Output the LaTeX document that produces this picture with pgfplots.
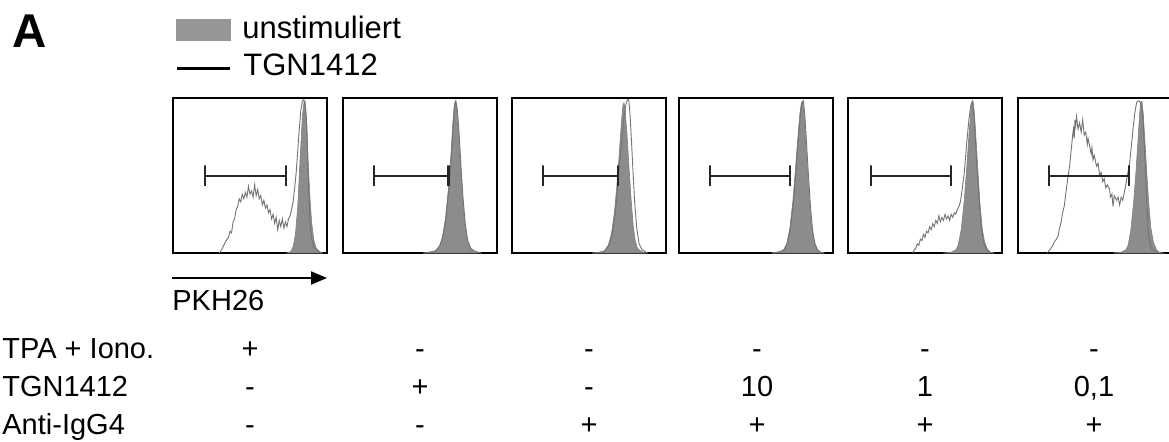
\documentclass[border=0pt]{standalone}
\usepackage{fontspec}
\setmainfont{Liberation Sans}
\usepackage{pgfplots}
\pgfplotsset{compat=1.18}
\usetikzlibrary{arrows.meta}
\definecolor{histgray}{RGB}{140,140,140}
\definecolor{leggray}{RGB}{150,150,150}
\pgfplotsset{
  panel/.style={scale only axis, width=77pt, height=77.5pt,
    xmin=0, xmax=1, ymin=0, ymax=1, xtick=\empty, ytick=\empty,
    axis line style={line width=1.3pt}, anchor=north west},
  gate/.style={line width=1.1pt, color=black!85},
  unst/.style={fill=histgray, draw=black!50, line width=0.3pt},
  tgn/.style={color=black!55, line width=0.45pt}
}
\begin{document}
\begin{tikzpicture}
\useasboundingbox (0,0) rectangle (584.5pt,-220.5pt);
% panel letter and legend
\node[anchor=base west, inner sep=0pt, font=\fontsize{23.7}{26}\selectfont\bfseries] at (6pt,-23.5pt) {A};
\fill[leggray] (88pt,-9.5pt) rectangle (115.5pt,-20.5pt);
\node[anchor=base west, inner sep=0pt, font=\fontsize{15.5}{18}\selectfont] at (121pt,-19pt) {unstimuliert};
\draw[line width=1.5pt] (88.5pt,-34pt) -- (115pt,-34pt);
\node[anchor=base west, inner sep=0pt, font=\fontsize{15.5}{18}\selectfont] at (121.5pt,-37.5pt) {TGN1412};

% Panel 1: TPA + Iono.
\begin{axis}[panel, at={(86.5pt,-49pt)}]
\addplot[unst] coordinates {(0.74,0)(0.765,0.01)(0.78,0.04)(0.795,0.12)(0.81,0.3)(0.825,0.6)(0.84,0.88)(0.85,0.97)(0.858,0.98)(0.866,0.88)(0.876,0.62)(0.888,0.38)(0.90,0.2)(0.915,0.08)(0.93,0.03)(0.95,0.01)(0.97,0)} \closedcycle;
\addplot[tgn] coordinates {(0.30,0)(0.315,0.02)(0.33,0.05)(0.345,0.08)(0.36,0.1)(0.37,0.14)(0.38,0.13)(0.39,0.2)(0.40,0.22)(0.41,0.28)(0.42,0.3)(0.43,0.35)(0.44,0.33)(0.45,0.38)(0.46,0.35)(0.47,0.39)(0.48,0.36)(0.49,0.43)(0.50,0.38)(0.51,0.4)(0.52,0.36)(0.53,0.44)(0.54,0.37)(0.55,0.41)(0.56,0.35)(0.57,0.37)(0.58,0.31)(0.59,0.34)(0.60,0.29)(0.61,0.31)(0.62,0.26)(0.63,0.28)(0.64,0.22)(0.65,0.25)(0.66,0.19)(0.67,0.23)(0.68,0.15)(0.69,0.21)(0.70,0.17)(0.71,0.22)(0.72,0.16)(0.73,0.2)(0.74,0.17)(0.75,0.22)(0.76,0.24)(0.77,0.28)(0.78,0.33)(0.79,0.42)(0.80,0.52)(0.81,0.66)(0.82,0.8)(0.83,0.92)(0.84,0.98)(0.85,0.99)(0.86,0.93)(0.87,0.8)(0.875,0.6)(0.88,0.45)(0.885,0.3)(0.89,0.2)(0.90,0.1)(0.91,0.05)(0.93,0.02)(0.96,0)};
\addplot[gate] coordinates {(0.21,0.43)(0.21,0.565)(0.21,0.495)(0.735,0.495)(0.735,0.565)(0.735,0.43)};
\end{axis}

% Panel 2: TGN1412 alone
\begin{axis}[panel, at={(171.5pt,-49pt)}]
\addplot[unst] coordinates {(0.52,0)(0.56,0.005)(0.60,0.015)(0.625,0.04)(0.645,0.1)(0.665,0.22)(0.685,0.42)(0.70,0.62)(0.712,0.82)(0.722,0.95)(0.73,0.98)(0.738,0.94)(0.75,0.78)(0.762,0.58)(0.775,0.38)(0.79,0.2)(0.805,0.09)(0.82,0.04)(0.845,0.01)(0.88,0)} \closedcycle;
\addplot[tgn] coordinates {(0.53,0)(0.6,0.01)(0.63,0.05)(0.65,0.11)(0.67,0.23)(0.69,0.44)(0.705,0.64)(0.717,0.84)(0.726,0.96)(0.733,0.98)(0.742,0.93)(0.754,0.77)(0.766,0.56)(0.779,0.36)(0.794,0.19)(0.81,0.08)(0.83,0.03)(0.86,0.01)(0.9,0)};
\addplot[gate] coordinates {(0.20,0.43)(0.20,0.565)(0.20,0.495)(0.685,0.495)(0.685,0.565)(0.685,0.43)};
\end{axis}

% Panel 3: Anti-IgG4 alone
\begin{axis}[panel, at={(256pt,-49pt)}]
\addplot[unst] coordinates {(0.52,0)(0.57,0.005)(0.60,0.015)(0.625,0.05)(0.645,0.12)(0.665,0.26)(0.683,0.46)(0.698,0.66)(0.71,0.84)(0.72,0.95)(0.727,0.97)(0.735,0.92)(0.747,0.76)(0.76,0.55)(0.773,0.35)(0.787,0.18)(0.80,0.08)(0.815,0.03)(0.84,0.01)(0.87,0)} \closedcycle;
\addplot[tgn] coordinates {(0.54,0)(0.6,0.01)(0.63,0.05)(0.655,0.14)(0.675,0.3)(0.695,0.52)(0.712,0.72)(0.728,0.88)(0.74,0.96)(0.75,0.99)(0.758,0.99)(0.766,0.9)(0.776,0.72)(0.786,0.52)(0.797,0.32)(0.81,0.16)(0.825,0.06)(0.845,0.02)(0.88,0)};
\addplot[gate] coordinates {(0.20,0.43)(0.20,0.565)(0.20,0.495)(0.69,0.495)(0.69,0.565)(0.69,0.43)};
\end{axis}

% Panel 4: TGN1412 10 + Anti-IgG4
\begin{axis}[panel, at={(339.5pt,-49pt)}]
\addplot[unst] coordinates {(0.60,0)(0.65,0.005)(0.68,0.02)(0.70,0.06)(0.72,0.16)(0.74,0.34)(0.757,0.55)(0.772,0.75)(0.785,0.9)(0.795,0.97)(0.803,0.98)(0.812,0.9)(0.822,0.74)(0.835,0.52)(0.848,0.32)(0.862,0.16)(0.878,0.07)(0.895,0.025)(0.915,0.005)(0.94,0)} \closedcycle;
\addplot[tgn] coordinates {(0.61,0)(0.66,0.01)(0.685,0.025)(0.705,0.07)(0.725,0.17)(0.745,0.35)(0.762,0.56)(0.777,0.76)(0.79,0.91)(0.8,0.97)(0.808,0.98)(0.817,0.89)(0.827,0.73)(0.84,0.51)(0.853,0.31)(0.867,0.15)(0.883,0.06)(0.9,0.02)(0.92,0.005)(0.945,0)};
\addplot[gate] coordinates {(0.20,0.43)(0.20,0.565)(0.20,0.495)(0.72,0.495)(0.72,0.565)(0.72,0.43)};
\end{axis}

% Panel 5: TGN1412 1 + Anti-IgG4
\begin{axis}[panel, at={(424pt,-49pt)}]
\addplot[unst] coordinates {(0.62,0)(0.67,0.005)(0.70,0.02)(0.715,0.05)(0.735,0.15)(0.755,0.34)(0.77,0.54)(0.784,0.74)(0.796,0.9)(0.805,0.97)(0.812,0.98)(0.821,0.9)(0.831,0.74)(0.844,0.52)(0.857,0.32)(0.871,0.16)(0.887,0.07)(0.905,0.025)(0.925,0.005)(0.95,0)} \closedcycle;
\addplot[tgn] coordinates {(0.42,0)(0.43,0.02)(0.44,0.03)(0.45,0.06)(0.46,0.05)(0.47,0.09)(0.48,0.08)(0.49,0.12)(0.50,0.1)(0.51,0.14)(0.52,0.13)(0.53,0.17)(0.54,0.15)(0.55,0.19)(0.56,0.17)(0.57,0.21)(0.58,0.19)(0.59,0.24)(0.60,0.2)(0.61,0.23)(0.62,0.21)(0.63,0.25)(0.64,0.22)(0.65,0.24)(0.66,0.21)(0.67,0.25)(0.68,0.23)(0.69,0.26)(0.70,0.25)(0.71,0.28)(0.72,0.3)(0.73,0.33)(0.74,0.4)(0.755,0.52)(0.77,0.7)(0.785,0.86)(0.797,0.95)(0.807,0.98)(0.815,0.93)(0.826,0.76)(0.838,0.54)(0.851,0.34)(0.865,0.17)(0.88,0.07)(0.9,0.02)(0.93,0)};
\addplot[gate] coordinates {(0.147,0.43)(0.147,0.565)(0.147,0.495)(0.67,0.495)(0.67,0.565)(0.67,0.43)};
\end{axis}

% Panel 6: TGN1412 0,1 + Anti-IgG4
\begin{axis}[panel, at={(509pt,-49pt)}]
\addplot[unst] coordinates {(0.62,0)(0.67,0.005)(0.70,0.02)(0.715,0.05)(0.733,0.15)(0.752,0.34)(0.767,0.54)(0.78,0.74)(0.79,0.9)(0.797,0.97)(0.805,0.98)(0.813,0.9)(0.823,0.74)(0.836,0.52)(0.849,0.32)(0.863,0.16)(0.879,0.07)(0.897,0.025)(0.917,0.005)(0.94,0)} \closedcycle;
\addplot[tgn] coordinates {(0.19,0)(0.205,0.02)(0.22,0.04)(0.235,0.07)(0.25,0.09)(0.26,0.11)(0.27,0.16)(0.28,0.2)(0.29,0.26)(0.30,0.3)(0.31,0.38)(0.32,0.46)(0.335,0.56)(0.345,0.66)(0.355,0.76)(0.36,0.8)(0.365,0.74)(0.37,0.86)(0.375,0.82)(0.38,0.88)(0.39,0.8)(0.40,0.84)(0.41,0.78)(0.42,0.86)(0.43,0.76)(0.44,0.78)(0.45,0.7)(0.455,0.74)(0.465,0.69)(0.475,0.64)(0.48,0.68)(0.487,0.6)(0.495,0.63)(0.51,0.56)(0.52,0.58)(0.53,0.5)(0.54,0.52)(0.55,0.46)(0.56,0.48)(0.57,0.42)(0.58,0.44)(0.595,0.41)(0.60,0.36)(0.61,0.38)(0.617,0.3)(0.625,0.37)(0.64,0.34)(0.65,0.36)(0.66,0.31)(0.67,0.36)(0.68,0.34)(0.69,0.39)(0.70,0.44)(0.71,0.5)(0.725,0.58)(0.735,0.68)(0.747,0.8)(0.758,0.9)(0.77,0.97)(0.78,0.98)(0.79,0.98)(0.80,0.95)(0.81,0.9)(0.82,0.7)(0.83,0.47)(0.838,0.3)(0.845,0.14)(0.855,0.07)(0.866,0.03)(0.9,0)};
\addplot[gate] coordinates {(0.20,0.43)(0.20,0.565)(0.20,0.495)(0.72,0.495)(0.72,0.565)(0.72,0.43)};
\end{axis}

% axis arrow
\draw[line width=1pt, -{Triangle[length=8pt, width=6.5pt]}] (86pt,-139pt) -- (163.5pt,-139pt);
\node[anchor=base west, inner sep=0pt, font=\fontsize{14.5}{17}\selectfont] at (86pt,-155pt) {PKH26};

% condition table
\begin{scope}[every node/.style={inner sep=0pt, font=\fontsize{14.5}{17}\selectfont}]
\node[anchor=base west] at (1pt,-179pt) {TPA + Iono.};
\node[anchor=base west] at (1pt,-198pt) {TGN1412};
\node[anchor=base west] at (1pt,-217pt) {Anti-IgG4};
\foreach \x/\a/\b/\c in {125/+/-/-, 210/-/+/-, 294.5/-/-/+, 378.5/-/10/+, 462.5/-/1/+, 547/-/{0,1}/+}{
  \node[anchor=base] at (\x pt,-179pt) {\a};
  \node[anchor=base] at (\x pt,-198pt) {\b};
  \node[anchor=base] at (\x pt,-217pt) {\c};
}
\end{scope}
\end{tikzpicture}
\end{document}
